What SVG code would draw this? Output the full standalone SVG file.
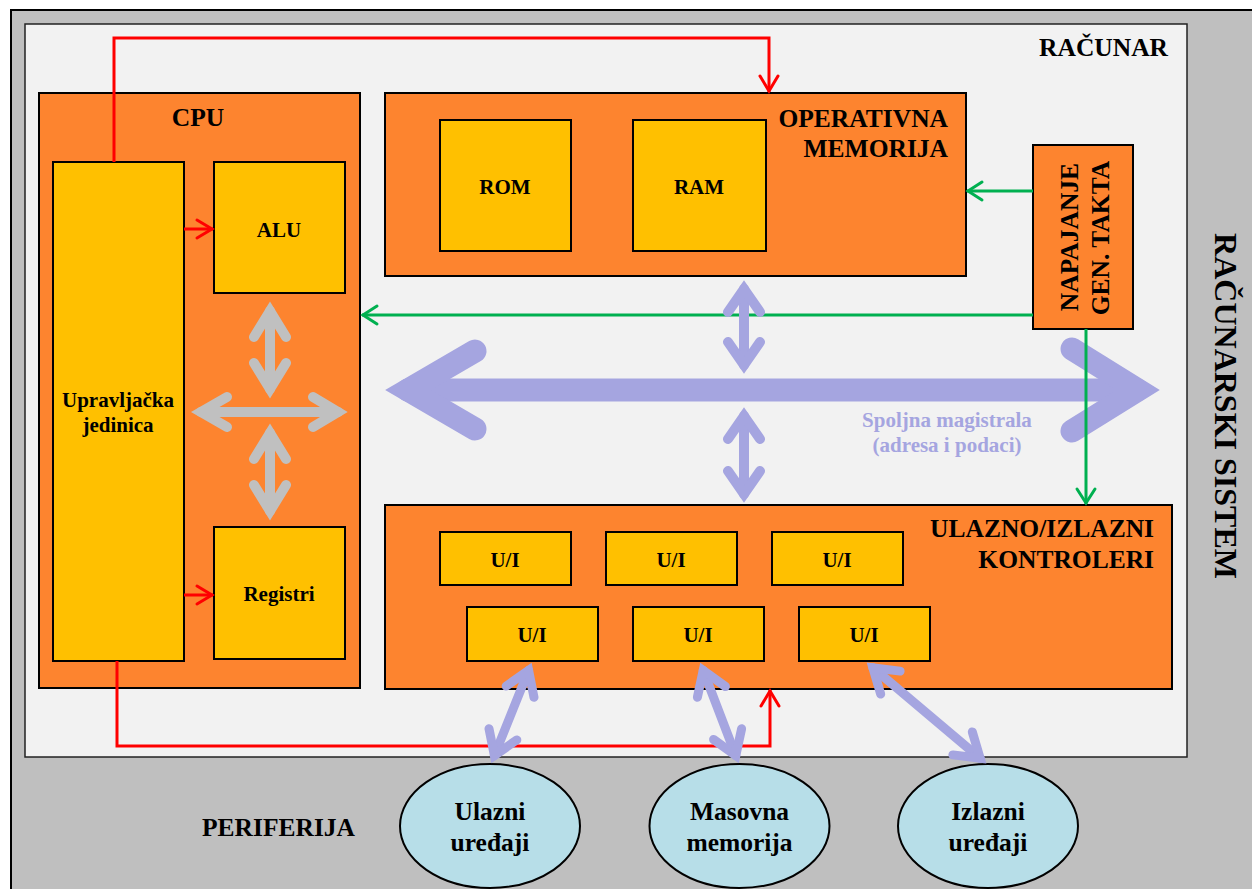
<svg xmlns="http://www.w3.org/2000/svg" width="1252" height="889" viewBox="0 0 1252 889">
<style>
text{font-family:"Liberation Serif","Times New Roman",serif;font-weight:bold;fill:#000}
.big{font-size:25.5px}
.sm{font-size:21px}
.ell{font-size:25.5px}
.box{fill:#fd842f;stroke:#000;stroke-width:2}
.ybox{fill:#ffc000;stroke:#000;stroke-width:2}
.peri{fill:#b7dee8;stroke:#000;stroke-width:2}
.red{fill:none;stroke:#ff0000;stroke-width:3}
.green{fill:none;stroke:#00b050;stroke-width:3}
.bus{fill:none;stroke:#a5a5e0;stroke-linecap:round;stroke-linejoin:miter;stroke-miterlimit:10}
.gray{fill:none;stroke:#c0c0c0;stroke-width:10;stroke-linecap:round;stroke-linejoin:miter;stroke-miterlimit:10}
.busTxt{fill:#a5a5e0;font-size:21px}
</style>
<defs>
<marker id="mRed" markerUnits="userSpaceOnUse" viewBox="-20 -12 24 24" refX="0" refY="0" markerWidth="24" markerHeight="24" orient="auto">
<path d="M-16,-9 L-1,0 L-16,9" fill="none" stroke="#ff0000" stroke-width="3" stroke-linecap="round"/>
</marker>
<marker id="mGreen" markerUnits="userSpaceOnUse" viewBox="-20 -12 24 24" refX="0" refY="0" markerWidth="24" markerHeight="24" orient="auto">
<path d="M-15,-9 L-1,0 L-15,9" fill="none" stroke="#00b050" stroke-width="3" stroke-linecap="round"/>
</marker>
</defs>

<g id="racunarski-sistem">
<rect x="11" y="10" width="1260" height="900" fill="#bfbfbf" stroke="#000" stroke-width="2"/>
<text class="big" transform="translate(1215,406) rotate(90)" text-anchor="middle" style="font-size:32px">RAČUNARSKI SISTEM</text>
</g>
<g id="racunar">
<rect x="25" y="24" width="1162" height="733" fill="#f2f2f2" stroke="#222" stroke-width="1.5"/>
<text class="big" x="1168" y="56" text-anchor="end">RAČUNAR</text>
</g>
<g id="periferija-label">
<text class="big" x="202" y="836">PERIFERIJA</text>
</g>

<g id="cpu">
<rect class="box" x="39" y="93" width="321" height="595"/>
<text class="big" x="198" y="126" text-anchor="middle">CPU</text>
</g>
<g id="upravljacka">
<rect class="ybox" x="53" y="162" width="131" height="499"/>
<text class="sm" x="118" y="407" text-anchor="middle">Upravljačka</text>
<text class="sm" x="118" y="432" text-anchor="middle">jedinica</text>
</g>
<g id="alu">
<rect class="ybox" x="214" y="162" width="131" height="131"/>
<text class="sm" x="279" y="237" text-anchor="middle">ALU</text>
</g>
<g id="registri">
<rect class="ybox" x="214" y="527" width="131" height="132"/>
<text class="sm" x="279" y="601" text-anchor="middle">Registri</text>
</g>

<g id="operativna-memorija">
<rect class="box" x="385" y="93" width="581" height="183"/>
<text class="big" x="948" y="127" text-anchor="end">OPERATIVNA</text>
<text class="big" x="948" y="157" text-anchor="end">MEMORIJA</text>
</g>
<g id="rom">
<rect class="ybox" x="440" y="120" width="131" height="131"/>
<text class="sm" x="505" y="194" text-anchor="middle">ROM</text>
</g>
<g id="ram">
<rect class="ybox" x="633" y="120" width="133" height="131"/>
<text class="sm" x="699" y="194" text-anchor="middle">RAM</text>
</g>

<g id="napajanje">
<rect class="box" x="1033" y="145" width="100" height="184"/>
<text class="big" transform="translate(1078,237) rotate(-90)" text-anchor="middle">NAPAJANJE</text>
<text class="big" transform="translate(1109,238) rotate(-90)" text-anchor="middle">GEN. TAKTA</text>
</g>

<g id="ui-kontroleri">
<rect class="box" x="385" y="505" width="787" height="184"/>
<text class="big" x="1154" y="537" text-anchor="end">ULAZNO/IZLAZNI</text>
<text class="big" x="1154" y="568" text-anchor="end">KONTROLERI</text>
</g>
<g id="ui1"><rect class="ybox" x="440" y="532" width="131" height="53"/><text class="sm" x="505" y="567" text-anchor="middle">U/I</text></g>
<g id="ui2"><rect class="ybox" x="606" y="532" width="131" height="53"/><text class="sm" x="671" y="567" text-anchor="middle">U/I</text></g>
<g id="ui3"><rect class="ybox" x="772" y="532" width="131" height="53"/><text class="sm" x="837" y="567" text-anchor="middle">U/I</text></g>
<g id="ui4"><rect class="ybox" x="467" y="607" width="131" height="54"/><text class="sm" x="532" y="642" text-anchor="middle">U/I</text></g>
<g id="ui5"><rect class="ybox" x="633" y="607" width="131" height="54"/><text class="sm" x="698" y="642" text-anchor="middle">U/I</text></g>
<g id="ui6"><rect class="ybox" x="799" y="607" width="131" height="54"/><text class="sm" x="864" y="642" text-anchor="middle">U/I</text></g>

<g id="ulazni-uredjaji">
<ellipse class="peri" cx="490" cy="826" rx="90" ry="62"/>
<text class="ell" x="490" y="820" text-anchor="middle">Ulazni</text>
<text class="ell" x="490" y="851" text-anchor="middle">uređaji</text>
</g>
<g id="masovna-memorija">
<ellipse class="peri" cx="739.5" cy="826" rx="90" ry="62"/>
<text class="ell" x="739.5" y="820" text-anchor="middle">Masovna</text>
<text class="ell" x="739.5" y="851" text-anchor="middle">memorija</text>
</g>
<g id="izlazni-uredjaji">
<ellipse class="peri" cx="988" cy="826" rx="90" ry="62"/>
<text class="ell" x="988" y="820" text-anchor="middle">Izlazni</text>
<text class="ell" x="988" y="851" text-anchor="middle">uređaji</text>
</g>

<g id="connectors">
<g id="spoljna-magistrala">
<path class="bus" stroke-width="23" d="M408,390 H1137"/>
<path class="bus" stroke-width="23" d="M475,351 L408,390 L475,429"/>
<path class="bus" stroke-width="23" d="M1072,349 L1138,390 L1072,431"/>
<text class="busTxt" x="947" y="427" text-anchor="middle">Spoljna magistrala</text>
<text class="busTxt" x="947" y="452" text-anchor="middle">(adresa i podaci)</text>
</g>
<path class="green" d="M1033,191 H967" marker-end="url(#mGreen)"/>
<path class="green" d="M1033,315 H362" marker-end="url(#mGreen)"/>
<path class="green" d="M1086,329 V504" marker-end="url(#mGreen)"/>
<path class="red" d="M114,162 V38 H769 V92" marker-end="url(#mRed)"/>
<path class="red" d="M184,229 H213" marker-end="url(#mRed)"/>
<path class="red" d="M184,595 H213" marker-end="url(#mRed)"/>
<path class="red" d="M117,661 V746 H770 V690" marker-end="url(#mRed)"/>
<g class="bus" stroke-width="10">
<path d="M744,289 V365"/>
<path d="M728,312 L744,289 L760,312"/>
<path d="M728,342 L744,365 L760,342"/>
<path d="M744,416 V494"/>
<path d="M728,439 L744,416 L760,439"/>
<path d="M728,471 L744,494 L760,471"/>
</g>
<g class="bus" stroke-width="9">
<path d="M528.6,670.4 L494.4,755.6"/>
<path d="M534,697.3 L528.6,670.4 L506.2,686.1"/>
<path d="M516.8,739.9 L494.4,755.6 L489,728.7"/>
<path d="M703.2,670.4 L735.8,755.6"/>
<path d="M725.4,686.5 L703.2,670.4 L697.4,697.3"/>
<path d="M741.6,728.7 L735.8,755.6 L713.6,739.5"/>
<path d="M872.9,667.8 L980.1,758.2"/>
<path d="M900.1,671.1 L872.9,667.8 L880.7,694.1"/>
<path d="M972.3,731.9 L980.1,758.2 L952.9,754.9"/>
</g>
<g class="gray">
<path d="M270,311 V389"/>
<path d="M254,337 L270,311 L286,337"/>
<path d="M254,363 L270,389 L286,363"/>
<path d="M201,412 H338"/>
<path d="M227,397 L201,412 L227,427"/>
<path d="M313,397 L338,412 L313,427"/>
<path d="M270,433 V511"/>
<path d="M254,459 L270,433 L286,459"/>
<path d="M254,485 L270,511 L286,485"/>
</g>
</g>
</svg>
